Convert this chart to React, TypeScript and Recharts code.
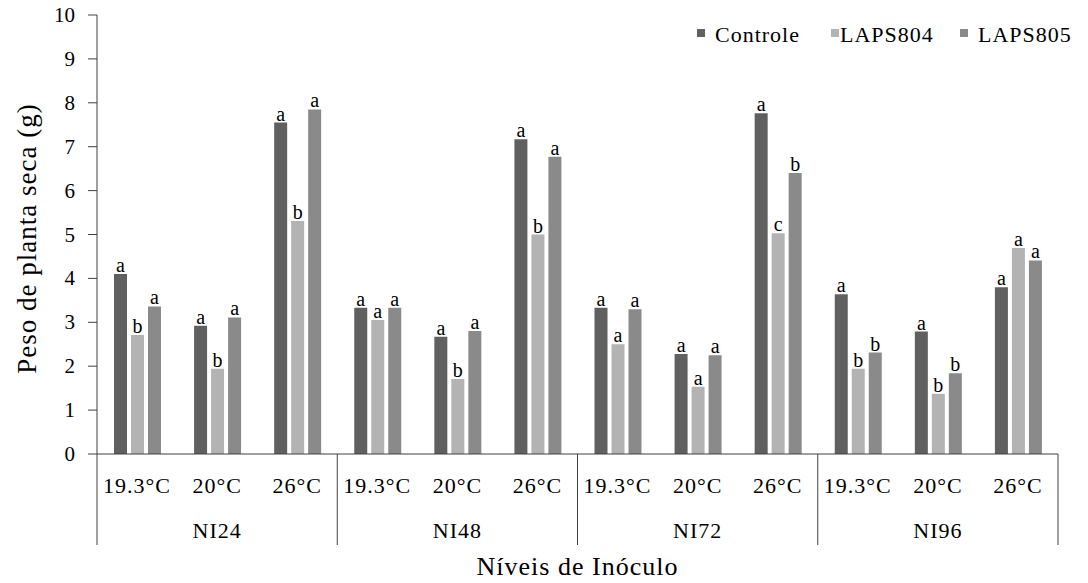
import React from 'react';
import { BarChart, Bar, XAxis, YAxis, LabelList, Label } from 'recharts';

const groups = ['NI24', 'NI48', 'NI72', 'NI96'];
const temps = ['19.3°C', '20°C', '26°C'];
const seriesNames = ['Controle', 'LAPS804', 'LAPS805'];
const seriesColors = ['#606060', '#b3b3b3', '#8a8a8a'];

const controle = [4.10, 2.92, 7.55, 3.33, 2.67, 7.17, 3.33, 2.28, 7.76, 3.64, 2.79, 3.80];
const laps804 = [2.71, 1.94, 5.31, 3.05, 1.71, 5.00, 2.50, 1.53, 5.03, 1.94, 1.37, 4.69];
const laps805 = [3.36, 3.11, 7.85, 3.33, 2.80, 6.77, 3.30, 2.25, 6.40, 2.31, 1.84, 4.41];

const lettersControle = ['a', 'a', 'a', 'a', 'a', 'a', 'a', 'a', 'a', 'a', 'a', 'a'];
const letters804 = ['b', 'b', 'b', 'a', 'b', 'b', 'a', 'a', 'c', 'b', 'b', 'a'];
const letters805 = ['a', 'a', 'a', 'a', 'a', 'a', 'a', 'a', 'b', 'b', 'b', 'a'];

const yTicks = [0, 1, 2, 3, 4, 5, 6, 7, 8, 9, 10];

const data = controle.map((_, i) => ({
  temp: temps[i % 3],
  group: groups[Math.floor(i / 3)],
  c: controle[i],
  l804: laps804[i],
  l805: laps805[i],
  tc: lettersControle[i],
  t804: letters804[i],
  t805: letters805[i],
}));

const FONT = "'Liberation Serif', 'Times New Roman', serif";
const AXIS = '#404040';

const W = 1088;
const H = 583;
const M = { top: 15, right: 30, left: 0, bottom: 0 };
const YW = 97;
const XH = 129;

const txt = (size: number, spacing = 1) => ({ fontFamily: FONT, fontSize: size, letterSpacing: spacing, fill: '#000' });

const XTick = (props: any) => {
  const { x, y, payload, index } = props;
  const n = data.length;
  const half = payload && payload.offset ? payload.offset : (W - YW - M.right) / n / 2;
  const i = typeof index === 'number' ? index : payload.index;
  const items: any[] = [];
  items.push(
    <text key="t" x={x} y={y + 39} textAnchor="middle" style={txt(22)}>
      {payload.value}
    </text>
  );
  if (i % 3 === 1) {
    items.push(
      <text key="g" x={x} y={y + 84} textAnchor="middle" style={txt(22)}>
        {data[i].group}
      </text>
    );
  }
  if (i % 3 === 0) {
    items.push(<line key="d0" x1={x - half} x2={x - half} y1={y} y2={y + 91} stroke={AXIS} strokeWidth={1} />);
  }
  if (i === n - 1) {
    items.push(<line key="d1" x1={x + half} x2={x + half} y1={y} y2={y + 91} stroke={AXIS} strokeWidth={1} />);
  }
  return <g>{items}</g>;
};

const YTick = (props: any) => {
  const { x, y, payload } = props;
  return (
    <text x={x} y={y} textAnchor="end" dominantBaseline="central" style={txt(21, 0)}>
      {payload.value}
    </text>
  );
};

const labelStyle = { fontFamily: FONT, fontSize: 20, fill: '#000' };

const Legend = () => {
  const items = [
    { sq: 697, tx: 715 },
    { sq: 831, tx: 840 },
    { sq: 960, tx: 978 },
  ];
  return (
    <svg width={W} height={60} style={{ position: 'absolute', left: 0, top: 0, pointerEvents: 'none' }}>
      {seriesNames.map((s, i) => (
        <g key={s}>
          <rect x={items[i].sq} y={29} width={8} height={8} fill={seriesColors[i]} />
          <text x={items[i].tx} y={42} style={txt(22)}>
            {s}
          </text>
        </g>
      ))}
    </svg>
  );
};

export default function App() {
  return (
    <div style={{ position: 'absolute', left: 0, top: 0, width: W, height: H, background: '#fff', fontFamily: FONT }}>
      <BarChart width={W} height={H} data={data} margin={M} barSize={13} barGap={4}>
        <XAxis
          dataKey="temp"
          interval={0}
          height={XH}
          tickSize={0}
          tickMargin={0}
          tickLine={false}
          axisLine={{ stroke: AXIS, strokeWidth: 1 }}
          tick={<XTick />}
        >
          <Label
            content={(p: any) => {
              const vb = p.viewBox || { x: YW, y: 454, width: 961 };
              return (
                <text x={vb.x + vb.width / 2} y={vb.y + 121} textAnchor="middle" style={txt(26)}>
                  Níveis de Inóculo
                </text>
              );
            }}
          />
        </XAxis>
        <YAxis
          width={YW}
          domain={[0, 10]}
          ticks={yTicks}
          interval={0}
          tickSize={9}
          tickMargin={13}
          axisLine={{ stroke: AXIS, strokeWidth: 1 }}
          tickLine={{ stroke: AXIS, strokeWidth: 1 }}
          tick={<YTick />}
        >
          <Label
            content={(p: any) => {
              const vb = p.viewBox || { x: 0, y: 15, height: 439 };
              const cx = vb.x + 27;
              const cy = vb.y + vb.height / 2 + 4;
              return (
                <text
                  x={cx}
                  y={cy}
                  transform={`rotate(-90, ${cx}, ${cy})`}
                  textAnchor="middle"
                  dominantBaseline="central"
                  style={txt(27)}
                >
                  Peso de planta seca (g)
                </text>
              );
            }}
          />
        </YAxis>
        <Bar dataKey="c" name={seriesNames[0]} fill={seriesColors[0]} isAnimationActive={false}>
          <LabelList dataKey="tc" position="top" offset={2} style={labelStyle} />
        </Bar>
        <Bar dataKey="l804" name={seriesNames[1]} fill={seriesColors[1]} isAnimationActive={false}>
          <LabelList dataKey="t804" position="top" offset={2} style={labelStyle} />
        </Bar>
        <Bar dataKey="l805" name={seriesNames[2]} fill={seriesColors[2]} isAnimationActive={false}>
          <LabelList dataKey="t805" position="top" offset={2} style={labelStyle} />
        </Bar>
      </BarChart>
      <Legend />
    </div>
  );
}
